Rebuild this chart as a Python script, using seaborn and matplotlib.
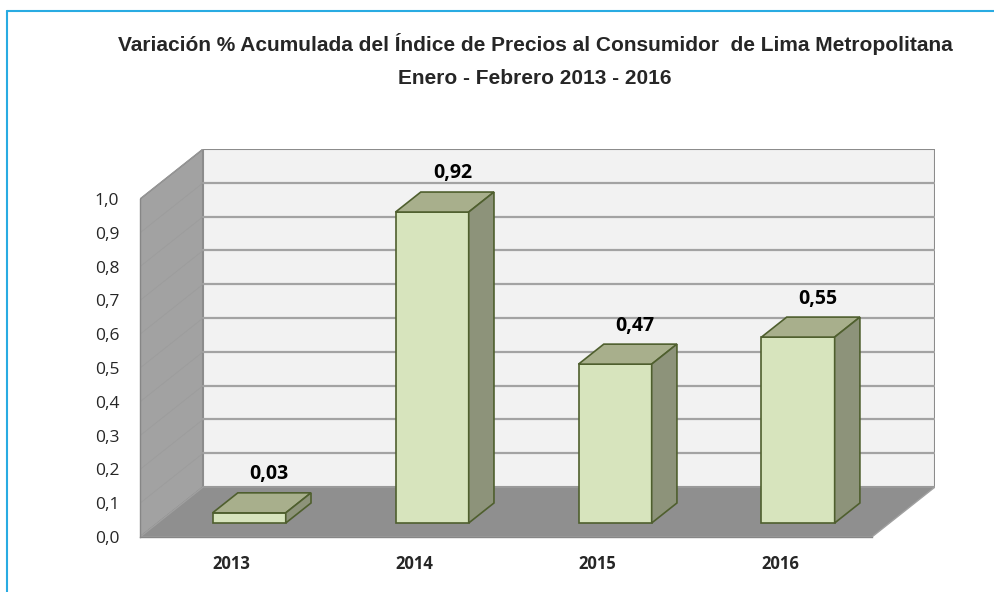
import matplotlib
matplotlib.use("Agg")
import matplotlib.pyplot as plt
import seaborn as sns
from matplotlib.patches import Polygon
from matplotlib.lines import Line2D

# Data
years = ["2013", "2014", "2015", "2016"]
values = [0.03, 0.92, 0.47, 0.55]
value_labels = ["0,03", "0,92", "0,47", "0,55"]
y_ticks = [0.0, 0.1, 0.2, 0.3, 0.4, 0.5, 0.6, 0.7, 0.8, 0.9, 1.0]
y_tick_labels = ["0,0", "0,1", "0,2", "0,3", "0,4", "0,5", "0,6", "0,7", "0,8", "0,9", "1,0"]
title_lines = [
    "Variación % Acumulada del Índice de Precios al Consumidor  de Lima Metropolitana",
    "Enero - Febrero 2013 - 2016",
]

# Fake 3D geometry (data units): depth of the walls and of the bars
wall_dx, wall_dy = 0.345, 0.148
bar_start = 0.28   # fraction of the depth where the bar front sits
bar_depth = 0.40   # fraction of the depth the bar occupies

front_col = "#D7E4BD"
top_col = "#A8AF8C"
side_col = "#8D937A"
edge_col = "#4F5F2E"

sns.set_theme(style="white")
plt.rcParams["font.family"] = ["Open Sans", "DejaVu Sans"]

fig = plt.figure(figsize=(9.95, 5.92), dpi=100)
ax = fig.add_axes([140 / 995, 55 / 592, 795 / 995, 388 / 592])

sns.barplot(x=years, y=values, width=0.4, color=front_col, saturation=1,
            edgecolor=edge_col, linewidth=1.2, ax=ax, zorder=3)

x0, x1 = -0.5, len(years) - 0.5
bx, by = x0 + wall_dx, wall_dy
top_v = y_ticks[-1]

# walls and floor
ax.add_patch(Polygon([(x0, 0), (x0, top_v), (bx, top_v + by), (bx, by)],
                     closed=True, facecolor="#A2A2A2", edgecolor="#7F7F7F", lw=1, zorder=0.5))
ax.add_patch(Polygon([(bx, by), (bx, top_v + by), (x1 + wall_dx, top_v + by), (x1 + wall_dx, by)],
                     closed=True, facecolor="#F2F2F2", edgecolor="#8C8C8C", lw=1.5, zorder=0.5))
ax.add_patch(Polygon([(x0, 0), (x1, 0), (x1 + wall_dx, by), (bx, by)],
                     closed=True, facecolor="#8F8F8F", edgecolor="#A0A0A0", lw=1, zorder=0.6))
for v in y_ticks[1:-1]:
    ax.plot([bx, x1 + wall_dx], [v + by, v + by], color="#A3A3A3", lw=1.6, zorder=0.55)
for v in y_ticks[1:]:
    ax.plot([x0, bx], [v, v + by], color="#9C9C9C", lw=0.6, zorder=0.55)

# shift front faces back and add top / side faces
sdx, sdy = bar_start * wall_dx, bar_start * wall_dy
ddx, ddy = bar_depth * wall_dx, bar_depth * wall_dy
for i, p in enumerate(ax.patches[:len(years)]):
    p.set_x(p.get_x() + sdx)
    p.set_y(p.get_y() + sdy)
    xa = p.get_x()
    xb = xa + p.get_width()
    ya = p.get_y()
    yb = ya + p.get_height()
    ax.add_patch(Polygon([(xa, yb), (xb, yb), (xb + ddx, yb + ddy), (xa + ddx, yb + ddy)],
                         closed=True, facecolor=top_col, edgecolor=edge_col, lw=1.2, zorder=3))
    ax.add_patch(Polygon([(xb, ya), (xb, yb), (xb + ddx, yb + ddy), (xb + ddx, ya + ddy)],
                         closed=True, facecolor=side_col, edgecolor=edge_col, lw=1.2, zorder=3))
    ax.text((xa + xb) / 2 + ddx * 0.8, yb + ddy + 0.055, value_labels[i],
            ha="center", va="center", fontsize=14, fontweight="bold", color="black", zorder=4)

ax.set_xlim(x0, x1 + wall_dx)
ax.set_ylim(0, top_v + wall_dy)

ax.set_yticks(y_ticks)
ax.set_yticklabels(y_tick_labels, fontsize=12.5)
ax.set_xticks([x0 + k for k in range(len(years) + 1)])
ax.set_xticklabels([])
ax.set_xticks(range(len(years)), minor=True)
ax.set_xticklabels(years, minor=True, fontsize=12, fontweight="bold")
ax.tick_params(axis="x", which="minor", length=0, pad=13)
ax.tick_params(axis="x", which="major", length=6, width=1, color="#868686", direction="out")
ax.tick_params(axis="y", length=6, width=1, color="#868686", direction="out", pad=9)
ax.set_xlabel("")
ax.set_ylabel("")
ax.grid(False)
ax.patch.set_alpha(0)

for s in ["top", "right"]:
    ax.spines[s].set_visible(False)
ax.spines["left"].set_bounds(0, top_v)
ax.spines["bottom"].set_bounds(x0, x1)
for s in ["left", "bottom"]:
    ax.spines[s].set_color("#868686")
    ax.spines[s].set_linewidth(1)

# title
title_font = ["Liberation Sans Narrow", "Liberation Sans", "DejaVu Sans"]
fig.text(535 / 995, 1 - 44 / 592, title_lines[0], ha="center", va="center", fontsize=15,
         fontweight="bold", family=title_font)
fig.text(535 / 995, 1 - 78 / 592, title_lines[1], ha="center", va="center", fontsize=15,
         fontweight="bold", family=title_font)

# light blue frame (top and left edges visible in the reference)
fig.add_artist(Line2D([7 / 995, 1], [1 - 11 / 592, 1 - 11 / 592], color="#29ABE2", lw=1.5))
fig.add_artist(Line2D([7 / 995, 7 / 995], [0, 1 - 11 / 592], color="#29ABE2", lw=1.5))

fig.savefig("out.png", dpi=100)
